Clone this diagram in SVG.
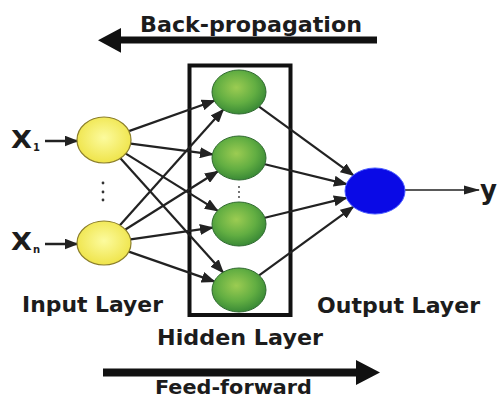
<svg xmlns="http://www.w3.org/2000/svg" width="503" height="397" viewBox="0 0 503 397">
<style>
.lbl{font-family:"DejaVu Sans","Liberation Sans",sans-serif;font-weight:bold;fill:#1c1c1c;}
.edge{stroke:#222;stroke-width:2.2;fill:none;marker-end:url(#ah);}
.yel{fill:url(#gy);stroke:#8c7f2a;stroke-width:1.2;}
.grn{fill:url(#gg);stroke:#2f6a2f;stroke-width:1;}
.dot{fill:#333;}
</style>
<defs>
<radialGradient id="gy" cx="0.5" cy="0.45" r="0.55">
<stop offset="0" stop-color="#fcfb9e"/>
<stop offset="1" stop-color="#efe44a"/>
</radialGradient>
<radialGradient id="gg" cx="0.45" cy="0.4" r="0.6">
<stop offset="0" stop-color="#9ccc52"/>
<stop offset="0.6" stop-color="#62ae42"/>
<stop offset="1" stop-color="#3a8a36"/>
</radialGradient>
<marker id="ah" markerUnits="userSpaceOnUse" markerWidth="14" markerHeight="11" refX="12.5" refY="5.5" orient="auto">
<path d="M0,0 L14,5.5 L0,11 z" fill="#222"/>
</marker>
<marker id="ahs" markerUnits="userSpaceOnUse" markerWidth="16" markerHeight="10" refX="15" refY="5" orient="auto">
<path d="M0,0.5 L16,5 L0,9.5 z" fill="#222"/>
</marker>
</defs>
<rect width="503" height="397" fill="#ffffff"/>

<g id="backprop">
<path d="M377,36.5 L121,36.5 L121,28 L98,40.2 L121,52.8 L121,43.5 L377,43.5 Z" fill="#111"/>
<text class="lbl" x="140" y="32" font-size="22" textLength="222" lengthAdjust="spacingAndGlyphs">Back-propagation</text>
</g>

<g id="feedforward">
<path d="M103,368.5 L356,368.5 L356,360 L380,372.5 L356,385 L356,376.5 L103,376.5 Z" fill="#111"/>
<text class="lbl" x="155" y="394" font-size="19" textLength="157" lengthAdjust="spacingAndGlyphs">Feed-forward</text>
</g>

<g id="hidden-layer-box">
<rect x="189.5" y="65.5" width="101" height="249.5" fill="none" stroke="#111" stroke-width="4"/>
<text class="lbl" x="157" y="345" font-size="22" textLength="166" lengthAdjust="spacingAndGlyphs">Hidden Layer</text>
</g>

<g id="connectors">
<line class="edge" x1="128.9" y1="131.1" x2="214.3" y2="100.8"/>
<line class="edge" x1="130.7" y1="143.6" x2="212.4" y2="154.4"/>
<line class="edge" x1="125.8" y1="153.6" x2="217.5" y2="210.6"/>
<line class="edge" x1="120.4" y1="158.3" x2="223" y2="272.3"/>
<line class="edge" x1="119.9" y1="225.2" x2="223.1" y2="109.8"/>
<line class="edge" x1="125.4" y1="229.5" x2="217.6" y2="171.5"/>
<line class="edge" x1="130.6" y1="239.3" x2="212.4" y2="227.7"/>
<line class="edge" x1="128.8" y1="251.6" x2="214.2" y2="281.4"/>
<line class="edge" x1="259.1" y1="106.7" x2="353.2" y2="175.2"/>
<line class="edge" x1="264.9" y1="164.3" x2="346.4" y2="184.1"/>
<line class="edge" x1="264.9" y1="217.7" x2="346.4" y2="197.9"/>
<line class="edge" x1="259.1" y1="275.3" x2="353.2" y2="206.8"/>
<line x1="45" y1="141" x2="77" y2="141" stroke="#222" stroke-width="2.5" marker-end="url(#ah)"/>
<line x1="45" y1="244" x2="77" y2="244" stroke="#222" stroke-width="2.5" marker-end="url(#ah)"/>
<line x1="405" y1="190" x2="479" y2="190" stroke="#222" stroke-width="1.5" marker-end="url(#ahs)"/>
</g>

<g id="input-x1">
<text class="lbl" x="11" y="148" font-size="24" textLength="21" lengthAdjust="spacingAndGlyphs">X</text>
<text class="lbl" x="33" y="151" font-size="10">1</text>
</g>
<g id="input-xn">
<text class="lbl" x="11" y="250" font-size="24" textLength="21" lengthAdjust="spacingAndGlyphs">X</text>
<text class="lbl" x="33" y="253" font-size="10">n</text>
</g>

<g id="input-node-1"><ellipse class="yel" cx="104" cy="140" rx="27" ry="23"/></g>
<g id="input-node-n"><ellipse class="yel" cx="104" cy="243" rx="27" ry="22"/></g>
<g id="input-dots">
<circle class="dot" cx="103" cy="183" r="1.4"/>
<circle class="dot" cx="103" cy="192" r="1.4"/>
<circle class="dot" cx="103" cy="200" r="1.4"/>
</g>
<text class="lbl" x="22" y="312" font-size="22" textLength="141" lengthAdjust="spacingAndGlyphs">Input Layer</text>

<g id="hidden-node-1"><ellipse class="grn" cx="239" cy="92" rx="27" ry="22"/></g>
<g id="hidden-node-2"><ellipse class="grn" cx="239" cy="158" rx="27" ry="22"/></g>
<g id="hidden-node-3"><ellipse class="grn" cx="239" cy="224" rx="27" ry="22"/></g>
<g id="hidden-node-4"><ellipse class="grn" cx="239" cy="290" rx="27" ry="22"/></g>
<g id="hidden-dots">
<circle class="dot" cx="239" cy="187" r="0.9"/>
<circle class="dot" cx="239" cy="192" r="0.9"/>
<circle class="dot" cx="239" cy="197" r="0.9"/>
</g>

<g id="output-node">
<ellipse cx="375" cy="191" rx="30" ry="23" fill="#0a0ae6" stroke="#4a5cff" stroke-width="1"/>
</g>
<g id="output-y"><text class="lbl" x="480" y="199" font-size="26">y</text></g>
<text class="lbl" x="317" y="313" font-size="22" textLength="163" lengthAdjust="spacingAndGlyphs">Output Layer</text>
</svg>
